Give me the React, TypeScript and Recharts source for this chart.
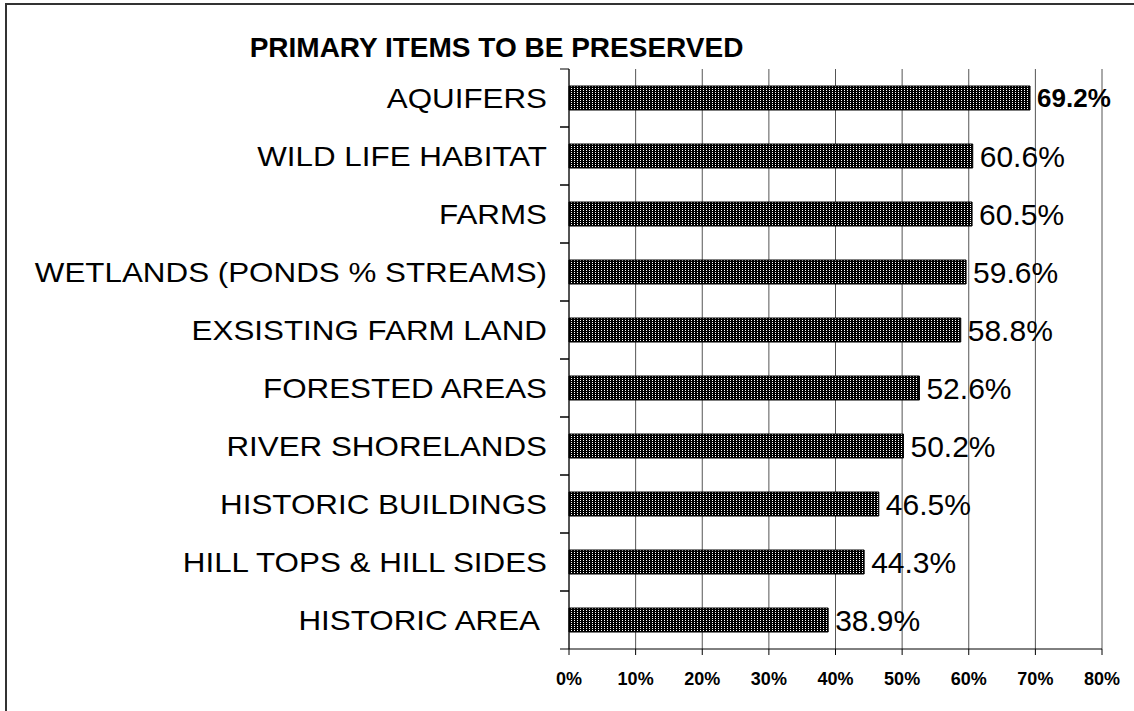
import { BarChart, Bar, XAxis, YAxis, CartesianGrid } from 'recharts';

const CATEGORIES = [
  'AQUIFERS',
  'WILD LIFE HABITAT',
  'FARMS',
  'WETLANDS (PONDS % STREAMS)',
  'EXSISTING FARM LAND',
  'FORESTED AREAS',
  'RIVER SHORELANDS',
  'HISTORIC BUILDINGS',
  'HILL TOPS & HILL SIDES',
  'HISTORIC AREA ',
];
const SHARES = [69.2, 60.6, 60.5, 59.6, 58.8, 52.6, 50.2, 46.5, 44.3, 38.9];
const X_TICKS = [0, 10, 20, 30, 40, 50, 60, 70, 80];

const W = 1134;
const H = 711;
const PLOT_LEFT = 569;
const PLOT_TOP = 69;
const PLOT_RIGHT = 1102;
const PLOT_BOTTOM = 649;
const BAND_HALF = (PLOT_BOTTOM - PLOT_TOP) / CATEGORIES.length / 2;
const FONT = '"Liberation Sans", Arial, Helvetica, sans-serif';

const data = CATEGORIES.map((name, i) => ({ name, value: SHARES[i] }));

const CategoryTick = ({ x, y, payload }: any) => (
  <g>
    <line x1={PLOT_LEFT - 9} x2={PLOT_LEFT} y1={y - BAND_HALF} y2={y - BAND_HALF} stroke="#000" />
    <line x1={PLOT_LEFT - 9} x2={PLOT_LEFT} y1={y + BAND_HALF} y2={y + BAND_HALF} stroke="#000" />
    <text
      x={0}
      y={0}
      dy={10}
      transform={`translate(${x},${y}) scale(1.12,1)`}
      textAnchor="end"
      fontSize={28}
      fill="#000"
      style={{ whiteSpace: 'pre' }}
    >
      {payload.value}
    </text>
  </g>
);

const ValueLabel = (props: any) => {
  const { x, y, width, height, value, index } = props;
  const first = index === 0 || (index === undefined && value === SHARES[0]);
  const size = first ? 26 : 30;
  return (
    <text
      x={x + width + 7}
      y={y + height / 2}
      dy={size * 0.355}
      fontSize={size}
      fontWeight={first ? 'bold' : 'normal'}
      fill="#000"
    >
      {value.toFixed(1)}%
    </text>
  );
};

export default function App() {
  return (
    <div
      style={{
        position: 'absolute',
        left: 0,
        top: 0,
        width: W,
        height: H,
        background: '#fff',
        overflow: 'hidden',
        fontFamily: FONT,
      }}
    >
      <div
        style={{
          position: 'absolute',
          left: 5,
          top: 3,
          width: W + 20,
          height: H + 20,
          border: '2px solid #333',
          boxSizing: 'border-box',
        }}
      />
      <div
        style={{
          position: 'absolute',
          left: 0,
          top: 34,
          width: 993,
          textAlign: 'center',
          fontSize: 28,
          lineHeight: '28px',
          fontWeight: 'bold',
          color: '#000',
        }}
      >
        PRIMARY ITEMS TO BE PRESERVED
      </div>
      <div style={{ position: 'absolute', left: 0, top: 0 }}>
        <BarChart
          width={W}
          height={H}
          data={data}
          layout="vertical"
          barSize={24}
          margin={{ top: PLOT_TOP, right: W - PLOT_RIGHT, bottom: 0, left: 0 }}
        >
          <defs>
            <pattern id="dots" width={3} height={2} patternUnits="userSpaceOnUse">
              <rect width={3} height={2} fill="#000" />
              <rect x={1} y={0} width={1} height={1} fill="#fff" />
            </pattern>
          </defs>
          <CartesianGrid horizontal={false} stroke="#555" />
          <XAxis
            type="number"
            domain={[0, 80]}
            ticks={X_TICKS}
            interval={0}
            tickFormatter={(v: number) => `${v}%`}
            tick={{ fontSize: 18, fontWeight: 'bold', fill: '#000' }}
            tickSize={6}
            tickMargin={17}
            tickLine={{ stroke: '#000' }}
            axisLine={{ stroke: '#000' }}
            height={H - PLOT_BOTTOM}
          />
          <XAxis
            xAxisId="top"
            orientation="top"
            type="number"
            domain={[0, 80]}
            tick={false}
            tickLine={false}
            axisLine={{ stroke: '#888' }}
            height={0}
          />
          <YAxis
            type="category"
            dataKey="name"
            width={PLOT_LEFT}
            interval={0}
            tickSize={9}
            tickMargin={13}
            tickLine={false}
            axisLine={{ stroke: '#000' }}
            tick={<CategoryTick />}
          />
          <YAxis
            yAxisId="right"
            orientation="right"
            type="category"
            dataKey="name"
            width={0}
            tick={false}
            tickLine={false}
            axisLine={{ stroke: '#888' }}
          />
          <Bar
            dataKey="value"
            fill="url(#dots)"
            stroke="#000"
            strokeWidth={1}
            isAnimationActive={false}
            label={<ValueLabel />}
          />
        </BarChart>
      </div>
    </div>
  );
}
